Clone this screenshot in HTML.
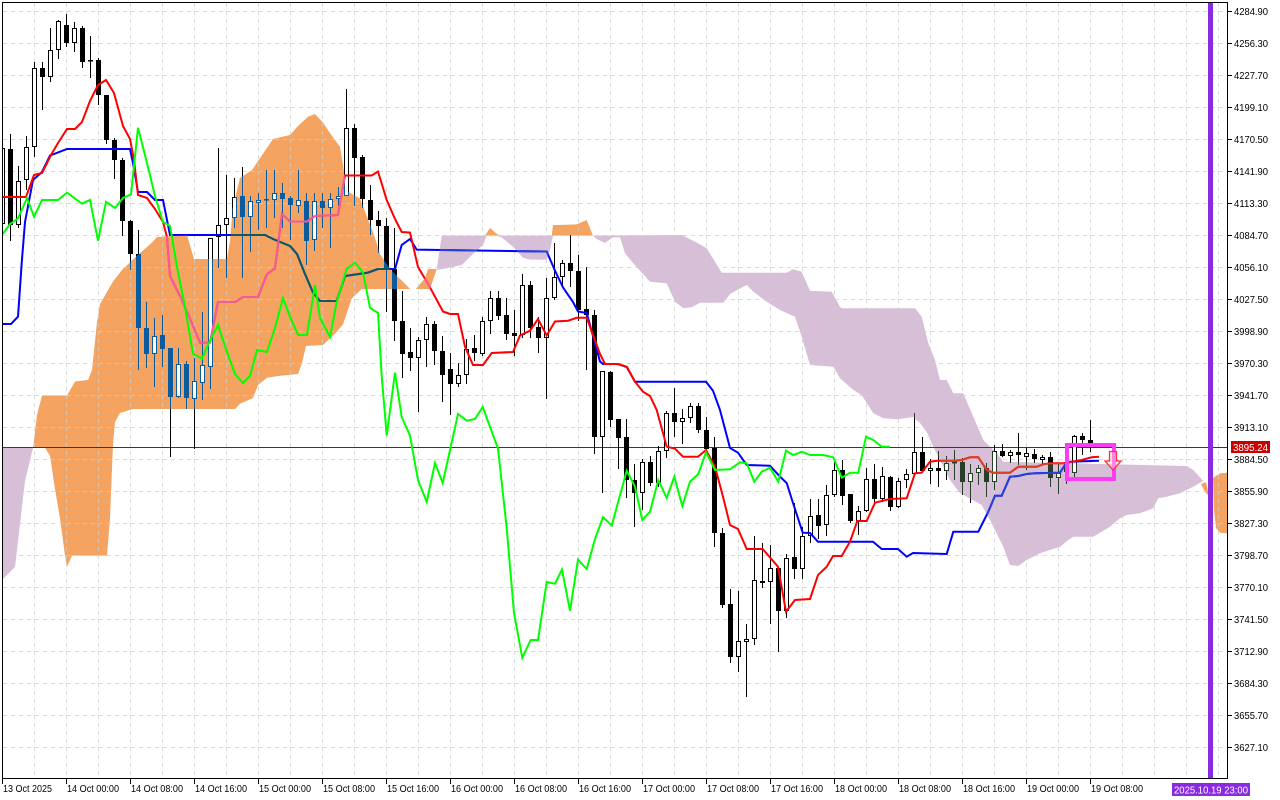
<!DOCTYPE html>
<html><head><meta charset="utf-8"><style>
html,body{margin:0;padding:0;background:#fff;width:1280px;height:800px;overflow:hidden}
svg{display:block}
text{font-family:"Liberation Sans",sans-serif;font-size:10.5px;fill:#000}
</style></head><body>
<svg width="1280" height="800" viewBox="0 0 1280 800" xmlns="http://www.w3.org/2000/svg">
<defs>
<clipPath id="plot"><rect x="3" y="3" width="1224.5" height="775.5"/></clipPath>
<clipPath id="cO">
<polygon points="33,448 37,415 42,395.5 67,395.5 75,381.5 88,380 92,370 97,322 100,304 113,281.5 122,270 137,255.6 152,242.6 157,237 187,235 194,259 227,259 230,240.7 233,207 240,178 252,170 273,139 290,135 298,126 308,116.7 315,114 323,122.6 331.7,135.5 340,146.7 343,165 346.7,191 360,198.5 373,232 380,254 390,269 406.7,285.5 410,289 361.7,289 351.7,298.5 343,324.4 335,333.7 323,345 306,346 302,363 298,374 278,376 267,377.8 258,385 253,398 240,403.7 235,409 133,409 120,413 115,422 113,444 110,518.5 107,555.6 72,555.6 67,566.7 65,555.6 60,518.5 55,489 50,455.6 45,448"/>
<polygon points="416,289 425,278 428,269 436.7,269 430,289"/>
<polygon points="485,235.6 490,228 496.7,233.7 500,235.6"/>
<polygon points="551.7,235.6 553,225 558,225 576.7,224.4 586.7,220 593,235.6"/>
<polygon points="1201,484 1206,482 1209,496 1205,492"/>
<polygon points="1213,478 1220,473.3 1228,472.7 1228,533.3 1220,532.7 1216,528 1214,510"/>
</clipPath>
<clipPath id="cP">
<polygon points="2,448 33,448 25,481 15,567 2,580"/>
<polygon points="436.7,269.6 441.7,235.6 553,235.6 550,250 546.7,259.6 530,259.6 523,257.8 513,246.7 501.7,237.4 496.7,235.6 486.7,235.6 483,245 473,254 461.7,265 443,269"/>
<polygon points="593,235.6 681.7,235 698,243.3 706.7,248.3 715,261.7 721.7,272.7 786.7,272.7 793,269.3 801.7,271.7 810,290.7 831.7,291.7 840,306.7 841.7,308.3 915,308.3 921.7,316.7 928.3,343.3 935,360 940,380 946.7,380 953.3,393.3 963.3,393.3 973.3,416.7 983.3,440 990,446.7 996.7,453.3 1003.3,461.7 1186.7,466 1193.3,470 1203.3,481 1193.3,486.7 1180,493.3 1166.7,496.7 1158.3,498.3 1153.3,508.3 1140,513.3 1126.7,515 1120,518.3 1110,526.7 1093.3,536.7 1073.3,536.7 1068.3,540 1060,546.7 1040,553.3 1026.7,560 1018.3,566 1010,565 1003.3,546.7 998.3,536.7 990,520 981.7,505 966.7,496.7 960,493.3 950,480 943.3,466.7 933.3,446.7 926.7,432 920,423 913,417 898.3,419.3 883.3,418.3 873.3,413.3 861.7,395 853.3,390 840,378.3 833.3,366.7 810,365 801.7,336.7 795,316.7 780,310 766.7,301.7 753.3,291.7 746.7,285 743.3,286.7 730,294 723.3,302.7 700,302.7 691.7,307.3 683.3,308.3 675,301.7 666.7,283.3 650,281.7 633.3,263.3 625,253.3 620,237.4 613,237.4 605,243 596.7,239"/>
</clipPath>
<g id="cdl">
<path fill="none" stroke="currentColor" stroke-width="1" d="M2.5,140V228M10.5,134V241M18.5,166V228M26.5,136V190M34.5,62V157M42.5,62V110M50.5,28V82M58.5,20V59M66.5,14V47M74.5,22V52M82.5,26V68M90.5,36V78M98.5,58V105M106.5,95V144M114.5,138V179M122.5,158V236M130.5,220V270M138.5,230V370M146.5,302V368M154.5,318V387M162.5,315V367M170.5,348V457M178.5,348V398M186.5,361V409M194.5,358V449M202.5,312V400M210.5,238V389M218.5,148V268M226.5,175V278M234.5,178V228M242.5,167V278M250.5,196V252M258.5,193V230M266.5,170V228M274.5,170V218M282.5,183V228M290.5,196V240M298.5,170V213M306.5,193V265M314.5,193V251M322.5,193V228M330.5,193V248M338.5,187V206M346.5,89V196M354.5,124V206M362.5,155V208M370.5,185V235M378.5,211V253M386.5,218V312M394.5,228V341M402.5,291V378M410.5,328V371M418.5,337V412M426.5,317V367M434.5,321V365M442.5,336V402M450.5,353V415M458.5,363V387M466.5,339V384M474.5,335V361M482.5,317V356M490.5,291V334M498.5,291V320M506.5,298V340M514.5,310V356M522.5,274V338M530.5,281V338M538.5,317V353M546.5,278V399M554.5,243V300M562.5,260V286M570.5,235V287M578.5,255V321M586.5,267V370M594.5,310V454M602.5,371V493M610.5,371V427M618.5,419V469M626.5,419V498M634.5,464V527M642.5,459V510M650.5,456V486M658.5,446V487M666.5,411V458M674.5,388V437M682.5,409V444M690.5,403V423M698.5,403V433M706.5,417V451M714.5,437V547M722.5,528V608M730.5,589V663M738.5,591V672M746.5,624V697M754.5,536V645M762.5,543V588M770.5,545V624M778.5,567V652M786.5,554V618M794.5,503V579M802.5,527V579M810.5,499V543M818.5,499V539M826.5,485V536M834.5,462V497M842.5,460V505M850.5,494V523M858.5,506V535M866.5,468V512M874.5,464V505M882.5,467V502M890.5,476V511M898.5,478V508M906.5,469V488M914.5,413V474M922.5,437V472M930.5,459V484M938.5,451V487M946.5,456V480M954.5,450V480M962.5,458V495M970.5,464V503M978.5,465V485M986.5,463V497M994.5,445V490M1002.5,444V457M1010.5,450V463M1018.5,433V465M1026.5,448V470M1034.5,449V463M1042.5,455V465M1050.5,452V487M1058.5,463V494M1066.5,456V484M1074.5,435V477M1082.5,433V455M1090.5,420V452"/>
<path fill="currentColor" stroke="none" d="M8,149h5v76h-5zM40,68h5v9h-5zM64,25h5v18h-5zM80,28h5v34h-5zM88,60h5v1.5h-5zM96,60h5v35h-5zM104,95h5v45h-5zM112,140h5v20h-5zM120,160h5v61h-5zM128,221h5v33h-5zM136,254h5v74h-5zM144,328h5v26h-5zM160,335h5v14h-5zM168,348h5v49h-5zM184,364h5v34h-5zM240,196h5v21h-5zM264,199h5v1.5h-5zM280,193h5v6h-5zM288,198h5v7h-5zM304,201h5v40h-5zM320,201h5v7h-5zM352,128h5v30h-5zM360,157h5v42h-5zM368,200h5v20h-5zM376,220h5v6h-5zM384,226h5v43h-5zM392,269h5v52h-5zM400,321h5v33h-5zM408,352h5v6h-5zM432,324h5v27h-5zM440,351h5v24h-5zM448,369h5v15h-5zM472,348h5v5h-5zM496,298h5v18h-5zM504,315h5v19h-5zM512,333h5v3h-5zM528,285h5v43h-5zM536,327h5v11h-5zM568,263h5v8h-5zM576,271h5v39h-5zM584,309h5v6h-5zM592,315h5v122h-5zM608,372h5v48h-5zM616,419h5v19h-5zM624,437h5v43h-5zM632,480h5v13h-5zM648,462h5v21h-5zM672,413h5v9h-5zM696,406h5v24h-5zM704,430h5v19h-5zM712,448h5v85h-5zM720,533h5v72h-5zM728,604h5v53h-5zM760,581h5v2h-5zM776,568h5v43h-5zM792,557h5v12h-5zM816,515h5v11h-5zM840,470h5v26h-5zM848,494h5v27h-5zM872,479h5v20h-5zM888,477h5v30h-5zM920,452h5v19h-5zM936,468h5v3h-5zM952,461.5h5v2h-5zM960,462h5v20h-5zM984,468h5v14h-5zM1000,451h5v5h-5zM1016,452h5v3h-5zM1032,454h5v5h-5zM1048,457h5v21h-5zM1080,436h5v4h-5zM1088,440h5v3h-5z"/>
<path fill="#fff" stroke="currentColor" stroke-width="1" d="M0.5,148.5h4v75h-4zM16.5,181.5h4v43h-4zM24.5,147.5h4v32h-4zM32.5,68.5h4v78h-4zM48.5,50.5h4v26h-4zM56.5,21.5h4v28h-4zM72.5,28.5h4v14h-4zM152.5,336.5h4v17h-4zM176.5,364.5h4v32h-4zM192.5,381.5h4v17h-4zM200.5,365.5h4v17h-4zM208.5,238.5h4v128h-4zM216.5,225.5h4v11h-4zM224.5,218.5h4v6h-4zM232.5,197.5h4v20h-4zM248.5,201.5h4v15h-4zM256.5,200.5h4v2h-4zM272.5,193.5h4v6h-4zM296.5,200.5h4v5h-4zM312.5,201.5h4v38h-4zM328.5,199.5h4v8h-4zM336.5,196.5h4v2h-4zM344.5,128.5h4v67h-4zM416.5,340.5h4v17h-4zM424.5,324.5h4v15h-4zM456.5,375.5h4v8h-4zM464.5,349.5h4v25h-4zM480.5,321.5h4v32h-4zM488.5,298.5h4v22h-4zM520.5,285.5h4v49h-4zM544.5,298.5h4v39h-4zM552.5,277.5h4v20h-4zM560.5,263.5h4v13h-4zM600.5,371.5h4v65h-4zM640.5,462.5h4v30h-4zM656.5,451.5h4v31h-4zM664.5,413.5h4v37h-4zM680.5,418.5h4v3h-4zM688.5,406.5h4v11h-4zM736.5,641.5h4v15h-4zM744.5,639.5h4v2h-4zM752.5,580.5h4v58h-4zM768.5,568.5h4v13h-4zM784.5,558.5h4v52h-4zM800.5,536.5h4v32h-4zM808.5,516.5h4v19h-4zM824.5,495.5h4v29h-4zM832.5,470.5h4v24h-4zM856.5,511.5h4v9h-4zM864.5,479.5h4v31h-4zM880.5,476.5h4v22h-4zM896.5,481.5h4v25h-4zM904.5,474.5h4v5h-4zM912.5,452.5h4v21h-4zM928.5,468.5h4v2h-4zM944.5,463.5h4v7h-4zM968.5,473.5h4v8h-4zM976.5,468.5h4v4h-4zM992.5,451.5h4v30h-4zM1008.5,452.5h4v3h-4zM1024.5,453.5h4v3h-4zM1040.5,457.5h4v2h-4zM1056.5,473.5h4v4h-4zM1064.5,462.5h4v9h-4zM1072.5,436.5h4v36h-4z"/>
</g>
<polyline id="tk" fill="none" stroke="currentColor" stroke-width="2" points="2,197 26,197 34,175 42,173 51,155 58,143 67,129 75,129 82,122 90,101 98,85 106,80 114,93 123,126 130,139 134,160 138,195 147,198 155,209 163,222 167,237 170,276 180,296 190,318.5 200,342.6 210,342.6 218,302 235,302 243,297 258,297 267,274 275,268.5 282,214 290,221.5 307,221.5 315,216 338,215 345,175.5 371.7,175.5 378,171.5 386.7,200 395,219 401.7,232 410,232.6 418,267 428,283.7 435,296.7 443,311.5 450,314 458,314 465,346.7 473,365 483,365 491.7,353 513,352 520,335.5 530,330.7 538,319 546.7,335.5 555,321.5 568,320.7 576.7,317.8 586.7,317.8 600,354 605,364 618,364 627,367 635,381.7 643,391.7 650,396 656.7,410 663,433 666.7,446.7 675,448.7 683,456.7 698,456.7 706,450 715,466.7 723,496.7 730,525 738,529 746.7,549 762.7,549 778,566.7 786,611.7 795,600 810,599 818,575 826.7,566.7 833,556 841.7,556 850,541.7 857.3,521 866.7,521 875,502.7 890,499 906.7,498.3 915,473.3 921.7,472.7 930,461.7 936.7,460.7 953.3,460.7 961.7,460 970,457.3 978.3,457.3 986.7,470 993.3,472.7 1010,472.7 1018.3,466.7 1036.7,466.7 1043.3,464.3 1050,463.3 1063.3,463.3 1070,462 1081.7,460 1091.7,457.3 1099,456.7"/>
<polyline id="kj" fill="none" stroke="currentColor" stroke-width="2" points="2,324 11,324 18,316.7 21.7,263 25,222 33,180 42,172 50,155.6 67,149 130,149 133,163 138,192 147,192 155,200 163,200 170,235 265,235 273,239 290,246 297,254 305,274 313,292.6 320,301 336.7,301 345,276 368,272.6 378,269 395,269 401.7,245 410,239 416.7,249.6 441.7,250 546.7,251.5 555,270.7 563,287.4 573,302 578,311.5 586.7,313 600,361.5 603,364 618,364 626.7,367 635,381.7 706,381.7 713,390.7 720,410 730,448 738,452.7 746.7,465 770,465.7 780,476.7 786.7,483 793,503 802.7,532.7 810,533 818,541.7 873,541.7 881.7,549 898,549 906.7,556.7 913,553 946.7,554 953.3,531.7 978.3,531.7 988.3,511.7 995,495.7 1001.7,495.7 1010,476.7 1018.3,476 1026.7,474 1035,473.3 1060,472.7 1065,465 1070,461.7 1099,460.7"/>
<g id="grid" fill="none" stroke-dasharray="4,4" stroke-width="1">
<path d="M34.5,3V778M66.5,3V778M98.5,3V778M130.5,3V778M162.5,3V778M194.5,3V778M226.5,3V778M258.5,3V778M290.5,3V778M322.5,3V778M354.5,3V778M386.5,3V778M418.5,3V778M450.5,3V778M482.5,3V778M514.5,3V778M546.5,3V778M578.5,3V778M610.5,3V778M642.5,3V778M674.5,3V778M706.5,3V778M738.5,3V778M770.5,3V778M802.5,3V778M834.5,3V778M866.5,3V778M898.5,3V778M930.5,3V778M962.5,3V778M994.5,3V778M1026.5,3V778M1058.5,3V778M1090.5,3V778M1122.5,3V778M1154.5,3V778M1186.5,3V778M1218.5,3V778"/>
<path d="M3,11.5H1227M3,43.5H1227M3,75.5H1227M3,107.5H1227M3,139.5H1227M3,171.5H1227M3,203.5H1227M3,235.5H1227M3,267.5H1227M3,299.5H1227M3,331.5H1227M3,363.5H1227M3,395.5H1227M3,427.5H1227M3,459.5H1227M3,491.5H1227M3,523.5H1227M3,555.5H1227M3,587.5H1227M3,619.5H1227M3,651.5H1227M3,683.5H1227M3,715.5H1227M3,747.5H1227"/>
</g>
</defs>

<g clip-path="url(#plot)">
<g fill="#f4a460">
<polygon points="33,448 37,415 42,395.5 67,395.5 75,381.5 88,380 92,370 97,322 100,304 113,281.5 122,270 137,255.6 152,242.6 157,237 187,235 194,259 227,259 230,240.7 233,207 240,178 252,170 273,139 290,135 298,126 308,116.7 315,114 323,122.6 331.7,135.5 340,146.7 343,165 346.7,191 360,198.5 373,232 380,254 390,269 406.7,285.5 410,289 361.7,289 351.7,298.5 343,324.4 335,333.7 323,345 306,346 302,363 298,374 278,376 267,377.8 258,385 253,398 240,403.7 235,409 133,409 120,413 115,422 113,444 110,518.5 107,555.6 72,555.6 67,566.7 65,555.6 60,518.5 55,489 50,455.6 45,448"/>
<polygon points="416,289 425,278 428,269 436.7,269 430,289"/>
<polygon points="485,235.6 490,228 496.7,233.7 500,235.6"/>
<polygon points="551.7,235.6 553,225 558,225 576.7,224.4 586.7,220 593,235.6"/>
<polygon points="1201,484 1206,482 1209,496 1205,492"/>
<polygon points="1213,478 1220,473.3 1228,472.7 1228,533.3 1220,532.7 1216,528 1214,510"/>
</g>
<g fill="#d8bfd8">
<polygon points="2,448 33,448 25,481 15,567 2,580"/>
<polygon points="436.7,269.6 441.7,235.6 553,235.6 550,250 546.7,259.6 530,259.6 523,257.8 513,246.7 501.7,237.4 496.7,235.6 486.7,235.6 483,245 473,254 461.7,265 443,269"/>
<polygon points="593,235.6 681.7,235 698,243.3 706.7,248.3 715,261.7 721.7,272.7 786.7,272.7 793,269.3 801.7,271.7 810,290.7 831.7,291.7 840,306.7 841.7,308.3 915,308.3 921.7,316.7 928.3,343.3 935,360 940,380 946.7,380 953.3,393.3 963.3,393.3 973.3,416.7 983.3,440 990,446.7 996.7,453.3 1003.3,461.7 1186.7,466 1193.3,470 1203.3,481 1193.3,486.7 1180,493.3 1166.7,496.7 1158.3,498.3 1153.3,508.3 1140,513.3 1126.7,515 1120,518.3 1110,526.7 1093.3,536.7 1073.3,536.7 1068.3,540 1060,546.7 1040,553.3 1026.7,560 1018.3,566 1010,565 1003.3,546.7 998.3,536.7 990,520 981.7,505 966.7,496.7 960,493.3 950,480 943.3,466.7 933.3,446.7 926.7,432 920,423 913,417 898.3,419.3 883.3,418.3 873.3,413.3 861.7,395 853.3,390 840,378.3 833.3,366.7 810,365 801.7,336.7 795,316.7 780,310 766.7,301.7 753.3,291.7 746.7,285 743.3,286.7 730,294 723.3,302.7 700,302.7 691.7,307.3 683.3,308.3 675,301.7 666.7,283.3 650,281.7 633.3,263.3 625,253.3 620,237.4 613,237.4 605,243 596.7,239"/>
</g>
<use href="#grid" stroke="#cfcfcf" stroke-opacity="0.75"/>
<line x1="3" y1="447.5" x2="1227" y2="447.5" stroke="#c00000" stroke-width="1"/>
<use href="#cdl" style="color:#000"/>
<use href="#cdl" style="color:#0b5b9f" clip-path="url(#cO)"/>
<use href="#cdl" style="color:#274027" clip-path="url(#cP)"/>
<use href="#kj" style="color:#0000ff"/>
<use href="#kj" style="color:#0b5b60" clip-path="url(#cO)"/>
<use href="#kj" style="color:#2740d8" clip-path="url(#cP)"/>
<use href="#tk" style="color:#ff0000"/>
<use href="#tk" style="color:#f45b9f" clip-path="url(#cO)"/>
<use href="#tk" style="color:#d84027" clip-path="url(#cP)"/>
<polyline fill="none" stroke="#00ff00" stroke-width="2" points="2,235 10,224 18,218.5 27,198 34,216.7 42,200 58,200 67,192.6 82,203.7 90,200 98,240.7 106,201.8 115,208 123,198 131,194.4 138,127.8 147,163 155,196 163,222 170,226 177,266.7 185,307 193,353.7 202,358.5 210,340.7 218,325 227,352 235,374 243,383 250,376 257,350 267,352 275,328 283,298 290,316.7 298,335 307,335 315,285 320,318 330,337 336.7,302 346.7,269 355,262.6 363,272.6 370,307.8 378,313 381.7,376 386.7,435.6 395,372.6 401.7,417 410,435.6 418,480 426.7,502 435,463 442.7,483 458,414 466.7,420.7 475,419 482.7,407 498,448.5 506.7,528 514,613 522.3,657.8 530.7,640 538,640 546.7,582 555,583.7 562,569.6 570,610.7 578,559.6 586.7,569 595,539 603,517 611.7,525.6 626.7,470.7 635,486.7 642.3,520 650,511.7 658.3,480 666.7,498 674.3,476.7 682.3,506 690,481.7 698.3,474 706,452.3 715,470 730,469.3 740,462.3 746.7,463.3 754.3,481.7 761.7,471.7 770,467.7 778.3,481.7 786,450.7 793.3,455 801.7,451.7 810,455 823.3,455 833.3,457.3 841.7,477.7 850,472.7 858.3,472.7 866,436.7 873.3,440 881.7,446.7 890,446.7"/>
<rect x="1067" y="445" width="47" height="34" fill="none" stroke="#ff3cf5" stroke-width="4"/>
<polygon points="1109.5,451.5 1116.5,451.5 1116.5,461 1121,461 1113,470 1105,461 1109.5,461" fill="#ffd0dc" fill-opacity="0.5" stroke="#ff3040" stroke-width="1.3"/>
<rect x="1208" y="3" width="5" height="776" fill="#8a2be2"/>
</g>

<rect x="2.5" y="2.5" width="1225" height="776" fill="none" stroke="#000" stroke-width="1"/>

<path stroke="#000" stroke-width="1" d="M1228,11.5h4M1228,43.5h4M1228,75.5h4M1228,107.5h4M1228,139.5h4M1228,171.5h4M1228,203.5h4M1228,235.5h4M1228,267.5h4M1228,299.5h4M1228,331.5h4M1228,363.5h4M1228,395.5h4M1228,427.5h4M1228,459.5h4M1228,491.5h4M1228,523.5h4M1228,555.5h4M1228,587.5h4M1228,619.5h4M1228,651.5h4M1228,683.5h4M1228,715.5h4M1228,747.5h4"/>
<g>
<text x="1234" y="15" textLength="34" lengthAdjust="spacingAndGlyphs">4284.90</text>
<text x="1234" y="47" textLength="34" lengthAdjust="spacingAndGlyphs">4256.30</text>
<text x="1234" y="79" textLength="34" lengthAdjust="spacingAndGlyphs">4227.70</text>
<text x="1234" y="111" textLength="34" lengthAdjust="spacingAndGlyphs">4199.10</text>
<text x="1234" y="143" textLength="34" lengthAdjust="spacingAndGlyphs">4170.50</text>
<text x="1234" y="175" textLength="34" lengthAdjust="spacingAndGlyphs">4141.90</text>
<text x="1234" y="207" textLength="34" lengthAdjust="spacingAndGlyphs">4113.30</text>
<text x="1234" y="239" textLength="34" lengthAdjust="spacingAndGlyphs">4084.70</text>
<text x="1234" y="271" textLength="34" lengthAdjust="spacingAndGlyphs">4056.10</text>
<text x="1234" y="303" textLength="34" lengthAdjust="spacingAndGlyphs">4027.50</text>
<text x="1234" y="335" textLength="34" lengthAdjust="spacingAndGlyphs">3998.90</text>
<text x="1234" y="367" textLength="34" lengthAdjust="spacingAndGlyphs">3970.30</text>
<text x="1234" y="399" textLength="34" lengthAdjust="spacingAndGlyphs">3941.70</text>
<text x="1234" y="431" textLength="34" lengthAdjust="spacingAndGlyphs">3913.10</text>
<text x="1234" y="463" textLength="34" lengthAdjust="spacingAndGlyphs">3884.50</text>
<text x="1234" y="495" textLength="34" lengthAdjust="spacingAndGlyphs">3855.90</text>
<text x="1234" y="527" textLength="34" lengthAdjust="spacingAndGlyphs">3827.30</text>
<text x="1234" y="559" textLength="34" lengthAdjust="spacingAndGlyphs">3798.70</text>
<text x="1234" y="591" textLength="34" lengthAdjust="spacingAndGlyphs">3770.10</text>
<text x="1234" y="623" textLength="34" lengthAdjust="spacingAndGlyphs">3741.50</text>
<text x="1234" y="655" textLength="34" lengthAdjust="spacingAndGlyphs">3712.90</text>
<text x="1234" y="687" textLength="34" lengthAdjust="spacingAndGlyphs">3684.30</text>
<text x="1234" y="719" textLength="34" lengthAdjust="spacingAndGlyphs">3655.70</text>
<text x="1234" y="751" textLength="34" lengthAdjust="spacingAndGlyphs">3627.10</text>
</g>
<rect x="1231" y="441" width="39" height="12" fill="#c80000"/>
<text x="1233" y="451" textLength="35" lengthAdjust="spacingAndGlyphs" style="fill:#fff">3895.24</text>

<path stroke="#000" stroke-width="1" d="M2.5,779v5M66.5,779v5M130.5,779v5M194.5,779v5M258.5,779v5M322.5,779v5M386.5,779v5M450.5,779v5M514.5,779v5M578.5,779v5M642.5,779v5M706.5,779v5M770.5,779v5M834.5,779v5M898.5,779v5M962.5,779v5M1026.5,779v5M1090.5,779v5"/>
<g>
<text x="3" y="792" textLength="49" lengthAdjust="spacingAndGlyphs">13 Oct 2025</text>
<text x="67" y="792" textLength="52" lengthAdjust="spacingAndGlyphs">14 Oct 00:00</text>
<text x="131" y="792" textLength="52" lengthAdjust="spacingAndGlyphs">14 Oct 08:00</text>
<text x="195" y="792" textLength="52" lengthAdjust="spacingAndGlyphs">14 Oct 16:00</text>
<text x="259" y="792" textLength="52" lengthAdjust="spacingAndGlyphs">15 Oct 00:00</text>
<text x="323" y="792" textLength="52" lengthAdjust="spacingAndGlyphs">15 Oct 08:00</text>
<text x="387" y="792" textLength="52" lengthAdjust="spacingAndGlyphs">15 Oct 16:00</text>
<text x="451" y="792" textLength="52" lengthAdjust="spacingAndGlyphs">16 Oct 00:00</text>
<text x="515" y="792" textLength="52" lengthAdjust="spacingAndGlyphs">16 Oct 08:00</text>
<text x="579" y="792" textLength="52" lengthAdjust="spacingAndGlyphs">16 Oct 16:00</text>
<text x="643" y="792" textLength="52" lengthAdjust="spacingAndGlyphs">17 Oct 00:00</text>
<text x="707" y="792" textLength="52" lengthAdjust="spacingAndGlyphs">17 Oct 08:00</text>
<text x="771" y="792" textLength="52" lengthAdjust="spacingAndGlyphs">17 Oct 16:00</text>
<text x="835" y="792" textLength="52" lengthAdjust="spacingAndGlyphs">18 Oct 00:00</text>
<text x="899" y="792" textLength="52" lengthAdjust="spacingAndGlyphs">18 Oct 08:00</text>
<text x="963" y="792" textLength="52" lengthAdjust="spacingAndGlyphs">18 Oct 16:00</text>
<text x="1027" y="792" textLength="52" lengthAdjust="spacingAndGlyphs">19 Oct 00:00</text>
<text x="1091" y="792" textLength="52" lengthAdjust="spacingAndGlyphs">19 Oct 08:00</text>
</g>
<rect x="1172" y="783" width="78" height="13" fill="#8a2be2"/>
<text x="1174" y="793.5" textLength="74" lengthAdjust="spacingAndGlyphs" style="fill:#fff">2025.10.19 23:00</text>
</svg>
</body></html>
